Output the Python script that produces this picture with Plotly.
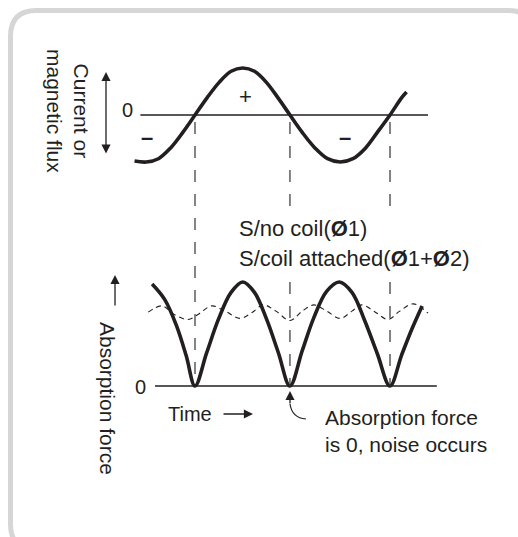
import plotly.graph_objects as go

W, H = 518, 537

# ---------------- data (time in half-periods; zero crossings at ~1, 2, 3) ----------------
flux_t = [0.38, 0.50, 0.625, 0.75, 0.875, 1.0, 1.125, 1.25, 1.37, 1.49, 1.61, 1.73, 1.85, 1.974,
          2.10, 2.23, 2.36, 2.49, 2.62, 2.75, 2.87, 3.0, 3.12, 3.17]
flux_v = [-0.98, -1.0, -0.93, -0.70, -0.37, 0.0, 0.37, 0.70, 0.93, 1.0, 0.93, 0.70, 0.37, 0.0,
          -0.37, -0.70, -0.93, -1.0, -0.93, -0.70, -0.37, 0.0, 0.37, 0.49]

force_t = [0.56, 0.69, 0.81, 0.91, 1.0, 1.12, 1.24, 1.37, 1.49, 1.61, 1.735, 1.855, 1.974,
           2.10, 2.22, 2.35, 2.48, 2.61, 2.74, 2.87, 3.0, 3.12, 3.23, 3.33]
force_v = [0.98, 0.83, 0.58, 0.29, 0.0, 0.32, 0.64, 0.90, 1.0, 0.90, 0.64, 0.32, 0.0,
           0.34, 0.66, 0.91, 1.0, 0.90, 0.63, 0.31, 0.0, 0.30, 0.56, 0.77]

ripple_t = [0.52, 0.66, 0.80, 0.93, 1.05, 1.17, 1.31, 1.46, 1.59, 1.70, 1.83, 1.974,
            2.10, 2.22, 2.35, 2.49, 2.61, 2.71, 2.85, 2.98, 3.10, 3.24, 3.39]
ripple_v = [0.71, 0.77, 0.68, 0.64, 0.70, 0.77, 0.72, 0.65, 0.71, 0.78, 0.72, 0.63,
            0.72, 0.78, 0.72, 0.65, 0.72, 0.78, 0.71, 0.64, 0.72, 0.79, 0.70]

zero_cross_t = [1.0, 1.974, 3.0]
flux_axis_t = [0.44, 3.39]
force_axis_t = [0.59, 3.48]

FONT = "Liberation Sans, Arial, sans-serif"
INK = "#231f20"


def px(x):
    return x / W


def py(y):
    return 1 - y / H


fig = go.Figure()

fig.add_trace(go.Scatter(x=flux_axis_t, y=[0, 0], mode="lines",
                         line=dict(color=INK, width=1.3), yaxis="y", hoverinfo="skip"))
fig.add_trace(go.Scatter(x=flux_t, y=flux_v, mode="lines", line_shape="spline",
                         line=dict(color=INK, width=3.6), yaxis="y", hoverinfo="skip"))
fig.add_trace(go.Scatter(x=force_axis_t, y=[0, 0], mode="lines",
                         line=dict(color=INK, width=1.3), yaxis="y2", hoverinfo="skip"))
fig.add_trace(go.Scatter(x=ripple_t, y=ripple_v, mode="lines", line_shape="spline",
                         line=dict(color=INK, width=1.1, dash="5px,4px"), yaxis="y2",
                         hoverinfo="skip"))
fig.add_trace(go.Scatter(x=force_t, y=force_v, mode="lines", line_shape="spline",
                         line=dict(color=INK, width=3.6), yaxis="y2", hoverinfo="skip"))

shapes = []
# dashed guide lines at the zero crossings
for i, t in enumerate(zero_cross_t):
    segs = [(122, 386)] if i == 0 else [(122, 217), (282, 386)]
    for y0, y1 in segs:
        shapes.append(dict(type="line", xref="x", yref="paper", x0=t, x1=t,
                           y0=py(y0), y1=py(y1),
                           line=dict(color="#333333", width=1.2, dash="12px,12px")))

# rounded frame (right and bottom edges run off the picture)
L, T, R, B, r = 10.5, 10.5, 534, 550, 26
path = (f"M {px(L)},{py(B - r)} L {px(L)},{py(T + r)} Q {px(L)},{py(T)} {px(L + r)},{py(T)} "
        f"L {px(R - r)},{py(T)} Q {px(R)},{py(T)} {px(R)},{py(T + r)} "
        f"L {px(R)},{py(B - r)} Q {px(R)},{py(B)} {px(R - r)},{py(B)} "
        f"L {px(L + r)},{py(B)} Q {px(L)},{py(B)} {px(L)},{py(B - r)} Z")
shapes.append(dict(type="path", xref="paper", yref="paper", path=path,
                   line=dict(color="#d6d6d6", width=5)))
# curved pointer line
shapes.append(dict(type="path", xref="paper", yref="paper",
                   path=f"M {px(290)},{py(404)} Q {px(292)},{py(418)} {px(306)},{py(419)}",
                   line=dict(color=INK, width=1.2)))

ann = []


def text(x, y, s, size=21, angle=0, xanchor="center", align="center"):
    ann.append(dict(x=px(x), y=py(y), xref="paper", yref="paper", text=s, showarrow=False,
                    textangle=angle, xanchor=xanchor, yanchor="middle", align=align,
                    font=dict(family=FONT, size=size, color=INK)))


def arrow(x, y, ax, ay, both=False):
    ann.append(dict(x=px(x), y=py(y), xref="paper", yref="paper", text="", showarrow=True,
                    ax=ax, ay=ay, arrowhead=2, arrowsize=1.4, arrowwidth=1.3, arrowcolor=INK,
                    arrowside="end+start" if both else "end", startarrowhead=2,
                    startarrowsize=1.4))


text(68, 111, "Current or<br>magnetic flux", 21, 90)
text(127, 110, "0", 20)
text(245, 97, "+", 22)
text(147, 137, "<b>–</b>", 22)
text(345, 137, "<b>–</b>", 22)
text(237, 228, "S/no coil(<b>Ø</b>1)", 22, xanchor="left", align="left")
text(237, 258, "S/coil attached(<b>Ø</b>1+<b>Ø</b>2)", 22, xanchor="left", align="left")
text(108, 398, "Absorption force", 21, 90)
text(140, 387, "0", 20)
text(166, 414, "Time", 20, xanchor="left")
text(323, 431, "Absorption force<br>is 0, noise occurs", 21, xanchor="left", align="left")

arrow(106, 72, 0, 83, both=True)
arrow(115, 275, 0, 32)
arrow(253, 414, -31, 0)
arrow(290, 391, 0, 14)

x_lo = 1 + (0 - 195) / 97.5
x_hi = 1 + (W - 195) / 97.5
fig.update_layout(
    width=W, height=H, margin=dict(l=0, r=0, t=0, b=0),
    paper_bgcolor="white", plot_bgcolor="white", showlegend=False,
    xaxis=dict(range=[x_lo, x_hi], visible=False, fixedrange=True),
    yaxis=dict(range=[(115 - H) / 47, 115 / 47], visible=False, fixedrange=True),
    yaxis2=dict(range=[(386 - H) / 104, 386 / 104], visible=False, overlaying="y",
                fixedrange=True),
    shapes=shapes, annotations=ann,
)

fig.write_html("out.html", config={"displayModeBar": False},
               post_script="document.body.style.margin='0';"
                           "document.documentElement.style.overflow='hidden';")
